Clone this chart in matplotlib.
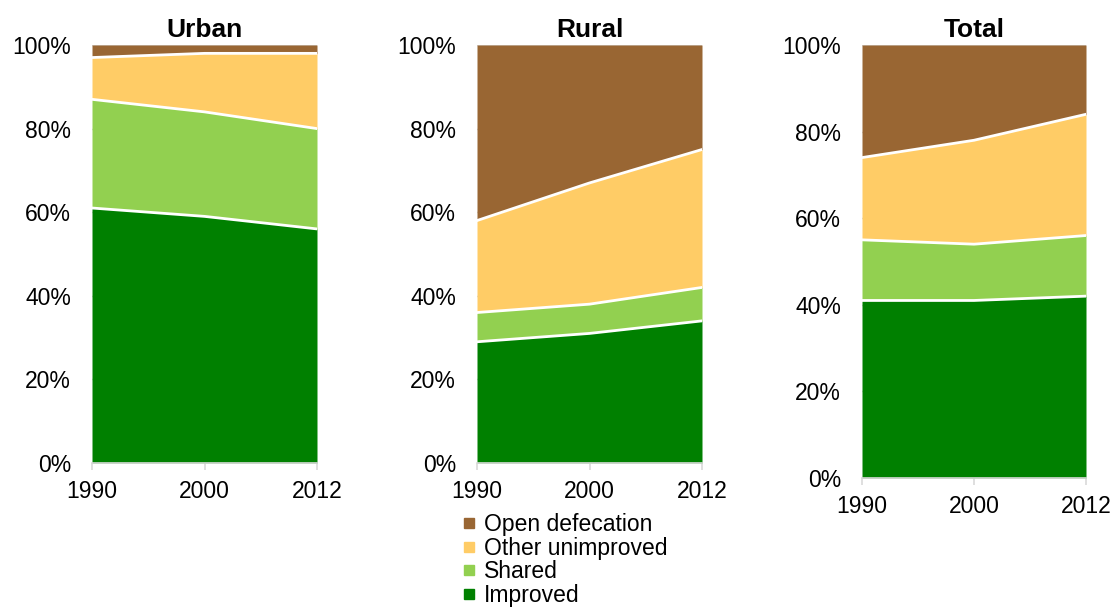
import numpy as np
import matplotlib.pyplot as plt
from matplotlib.lines import Line2D

plt.rcParams['font.family'] = ['Liberation Sans', 'DejaVu Sans']

years = ['1990', '2000', '2012']
categories = ['Improved', 'Shared', 'Other unimproved', 'Open defecation']
colors = ['#008000', '#92D050', '#FFCC66', '#996633']

# shares in percent, per sanitation category, 1990 / 2000 / 2012
urban = {
    'Improved': [61, 59, 56],
    'Shared': [26, 25, 24],
    'Other unimproved': [10, 14, 18],
    'Open defecation': [3, 2, 2],
}
rural = {
    'Improved': [29, 31, 34],
    'Shared': [7, 7, 8],
    'Other unimproved': [22, 29, 33],
    'Open defecation': [42, 33, 25],
}
total = {
    'Improved': [41, 41, 42],
    'Shared': [14, 13, 14],
    'Other unimproved': [19, 24, 28],
    'Open defecation': [26, 22, 16],
}

fig = plt.figure(figsize=(11.15, 6.1), dpi=100)

panels = [
    ('Urban', urban, [92, 317, 45, 463]),
    ('Rural', rural, [477, 702, 45, 463]),
    ('Total', total, [862, 1086, 45, 478]),
]

W, H = 1115, 610
fs = 16.5

for title, data, (x0, x1, ytop, ybot) in panels:
    ax = fig.add_axes([x0 / W, 1 - ybot / H, (x1 - x0) / W, (ybot - ytop) / H])
    x = np.arange(len(years))
    base = np.zeros(len(years))
    for cat, col in zip(categories, colors):
        top = base + np.array(data[cat])
        ax.fill_between(x, base, top, color=col, lw=0, zorder=2)
        base = top
    # white boundaries between the bands
    base = np.zeros(len(years))
    for cat in categories[:-1]:
        base = base + np.array(data[cat])
        ax.plot(x, base, color='white', lw=2, zorder=3)

    ax.set_xlim(0, 2)
    ax.set_ylim(0, 100)
    ax.set_xticks(x)
    ax.set_xticklabels(years, fontsize=fs)
    ax.set_yticks(np.arange(0, 101, 20))
    ax.set_yticklabels([f'{v}%' for v in range(0, 101, 20)], fontsize=fs)
    ax.yaxis.grid(True, color='#D9D9D9', lw=1, zorder=0)
    ax.set_axisbelow(True)
    for s in ['top', 'right', 'left']:
        ax.spines[s].set_visible(False)
    ax.spines['bottom'].set_color('#D9D9D9')
    ax.spines['bottom'].set_linewidth(1.2)
    ax.spines['bottom'].set_zorder(4)
    ax.tick_params(axis='y', length=0, pad=15)
    ax.tick_params(axis='x', length=5, width=1.2, color='#D9D9D9', pad=7)
    ax.set_title(title, fontsize=19, fontweight='bold', pad=6)

handles = [Line2D([], [], marker='s', ls='', color=c, markersize=7.2)
           for c in colors[::-1]]
fig.legend(handles, categories[::-1], loc='upper left',
           bbox_to_anchor=(462 / W, 1 - 513 / H), frameon=False,
           fontsize=fs, handlelength=0.6, handletextpad=0.35,
           labelspacing=0.03, borderpad=0, borderaxespad=0)

fig.savefig('out.png', dpi=100)
